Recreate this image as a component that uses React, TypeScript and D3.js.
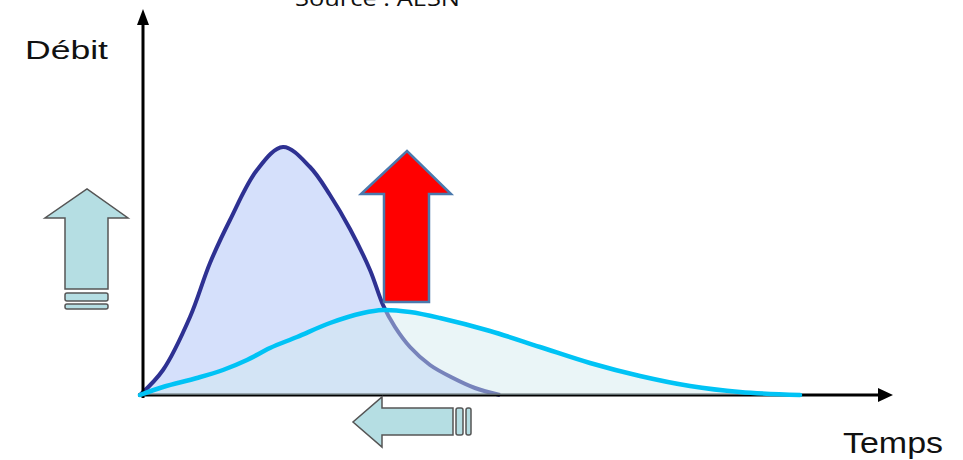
import React from "react";
import * as d3 from "d3";

// Hydrogram data (time units, discharge units)
const peakTime = [0, 23, 50, 70, 90, 117, 143, 170, 190, 210, 230, 243, 255, 270, 290, 313, 335, 360];
const peakFlow = [0, 25, 78, 132, 175, 225, 248, 228, 200, 166, 125, 90, 68, 48, 30, 17, 7, 0];

const baseTime = [0, 23, 57, 83, 107, 130, 157, 190, 223, 243, 270, 300, 350, 400, 450, 500, 550, 600, 660];
const baseFlow = [0, 8, 17, 25, 35, 47, 58, 72, 82, 85, 83, 77, 64, 48, 32, 19, 9, 3, 0];

const sourceLabel = "Source : AESN";
const yLabel = "Débit";
const xLabel = "Temps";

const W = 963;
const H = 460;

export default function App() {
  const x = d3.scaleLinear().domain([0, 760]).range([140, 900]);
  const y = d3.scaleLinear().domain([0, 250]).range([395, 145]);

  const peak = peakTime.map((t, i) => [t, peakFlow[i]] as [number, number]);
  const base = baseTime.map((t, i) => [t, baseFlow[i]] as [number, number]);

  const curve = d3.curveCatmullRom.alpha(0.5);
  const area = d3
    .area<[number, number]>()
    .x((d) => x(d[0]))
    .y0(y(0))
    .y1((d) => y(d[1]))
    .curve(curve);
  const line = d3
    .line<[number, number]>()
    .x((d) => x(d[0]))
    .y((d) => y(d[1]))
    .curve(curve);

  const poly = (pts: number[][]) => "M" + pts.map((p) => p.join(",")).join("L") + "Z";

  // block arrows (annotations)
  const leftArrow = poly([
    [65, 289], [65, 218], [45, 218], [87, 189], [128, 218], [108, 218], [108, 289],
  ]);
  const redArrow = poly([
    [384, 302], [384, 194], [361, 194], [407, 151], [451, 194], [429, 194], [429, 302],
  ]);
  const bottomArrow = poly([
    [453, 408], [382, 408], [382, 397], [353, 422], [382, 447], [382, 435], [453, 435],
  ]);

  return (
    <svg
      width={W}
      height={H}
      style={{ position: "absolute", left: 0, top: 0, background: "#fff" }}
      fontFamily="'Liberation Sans', Arial, sans-serif"
    >
      <rect width={W} height={H} fill="#fff" />
      <text
        x={295}
        y={6}
        fontFamily="'Open Sans', sans-serif"
        fontSize={22}
        textLength={165}
        lengthAdjust="spacingAndGlyphs"
        fill="#111"
      >
        {sourceLabel}
      </text>

      {/* peak hydrogram */}
      <path d={area(peak) || ""} fill="#d5e0fb" />
      <path d={line(peak) || ""} fill="none" stroke="#2e3192" strokeWidth={4} strokeLinejoin="round" />

      {/* axes */}
      <line x1={143} y1={398} x2={143} y2={22} stroke="#000" strokeWidth={3} />
      <path d={poly([[143, 9], [137, 25], [149, 25]])} fill="#000" />
      <line x1={138} y1={395} x2={882} y2={395} stroke="#000" strokeWidth={3} />
      <path d={poly([[893, 395], [878, 388], [878, 402]])} fill="#000" />

      {/* base hydrogram, drawn over */}
      <path d={area(base) || ""} fill="rgb(208,233,237)" fillOpacity={0.45} />
      <path d={line(base) || ""} fill="none" stroke="#00c3f5" strokeWidth={4.5} strokeLinejoin="round" strokeLinecap="round" />

      {/* arrows */}
      <path d={leftArrow} fill="#b5dee3" stroke="#555" strokeWidth={1.5} />
      <rect x={65} y={293} width={43} height={8} rx={2} fill="#b5dee3" stroke="#555" strokeWidth={1.5} />
      <rect x={65} y={304} width={43} height={5} rx={2} fill="#b5dee3" stroke="#555" strokeWidth={1.5} />

      <path d={redArrow} fill="#ff0000" stroke="#4a79ad" strokeWidth={2.5} />

      <path d={bottomArrow} fill="#b5dee3" stroke="#555" strokeWidth={1.5} />
      <rect x={456} y={408} width={7} height={27} rx={2} fill="#b5dee3" stroke="#555" strokeWidth={1.5} />
      <rect x={466} y={408} width={5} height={27} rx={2} fill="#b5dee3" stroke="#555" strokeWidth={1.5} />

      <text x={25} y={59} fontSize={25} textLength={83} lengthAdjust="spacingAndGlyphs" fill="#111">
        {yLabel}
      </text>
      <text x={843} y={453} fontSize={29} textLength={100} lengthAdjust="spacingAndGlyphs" fill="#111">
        {xLabel}
      </text>
    </svg>
  );
}
